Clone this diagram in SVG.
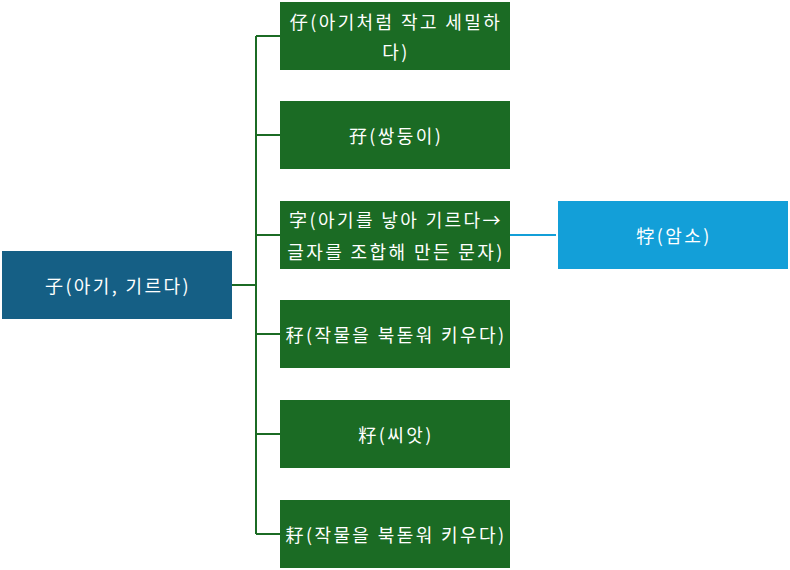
<svg xmlns="http://www.w3.org/2000/svg" width="790" height="570" viewBox="0 0 790 570">
<style>
.t{font-family:"Noto Sans CJK KR","Noto Sans",sans-serif;font-size:18px;letter-spacing:2.4px;fill:#ffffff;text-anchor:middle;dominant-baseline:central}
.g{fill:#1b6b24}
.c{stroke:#1b6b24;stroke-width:2;fill:none}
</style>
<rect width="790" height="570" fill="#ffffff"/>
<g id="connectors">
<path class="c" d="M232 285H256M256 36V534M256 36H280M256 135H280M256 235H280M256 334H280M256 434H280M256 534H280"/>
<path d="M510 235H556" stroke="#139fd8" stroke-width="2" fill="none"/>
</g>
<g id="root"><rect x="2" y="251" width="230" height="68" fill="#155f85"/><text class="t" x="118" y="285">子(아기, 기르다)</text></g>
<g id="n1"><rect class="g" x="280" y="2" width="230" height="68"/><text class="t" x="396" y="21">仔(아기처럼 작고 세밀하</text><text class="t" x="396" y="51">다)</text></g>
<g id="n2"><rect class="g" x="280" y="101" width="230" height="68"/><text class="t" x="396" y="135">孖(쌍둥이)</text></g>
<g id="n3"><rect class="g" x="280" y="201" width="230" height="68"/><text class="t" x="396" y="219">字(아기를 낳아 기르다→</text><text class="t" x="396" y="251">글자를 조합해 만든 문자)</text></g>
<g id="n4"><rect class="g" x="280" y="300" width="230" height="68"/><text class="t" x="396" y="334">秄(작물을 북돋워 키우다)</text></g>
<g id="n5"><rect class="g" x="280" y="400" width="230" height="68"/><text class="t" x="396" y="434">籽(씨앗)</text></g>
<g id="n6"><rect class="g" x="280" y="500" width="230" height="68"/><text class="t" x="396" y="534">耔(작물을 북돋워 키우다)</text></g>
<g id="n7"><rect x="558" y="201" width="230" height="68" fill="#139fd8"/><text class="t" x="674" y="235">牸(암소)</text></g>
</svg>
